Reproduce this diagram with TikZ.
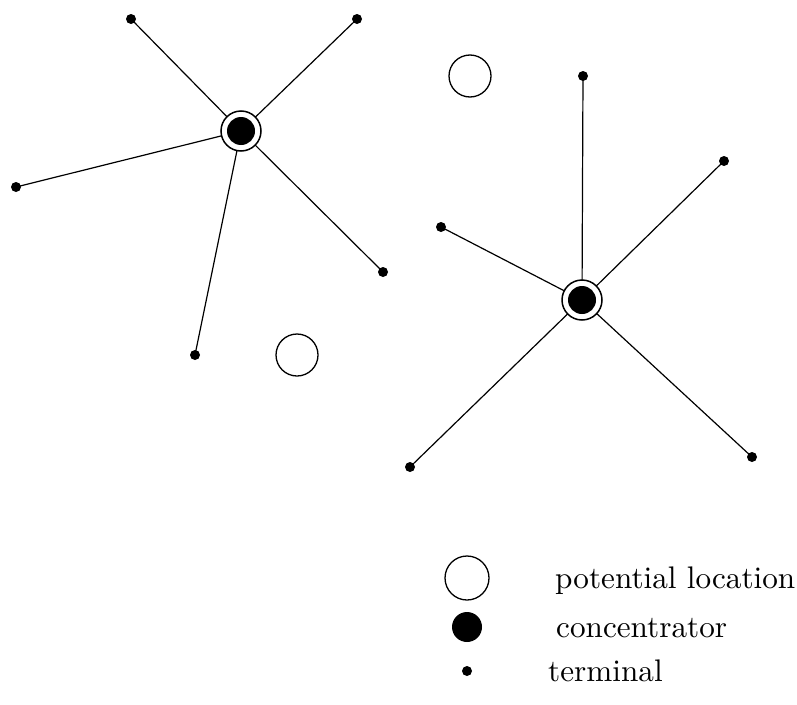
\documentclass[tikz,border=0pt]{standalone}
\begin{document}
\begin{tikzpicture}[x=1pt,y=-1pt,
  term/.style={circle,fill=black,inner sep=0pt,minimum size=10pt},
  ring/.style={circle,draw=black,fill=white,line width=1.5pt,inner sep=0pt,minimum size=40pt},
  conc/.style={circle,fill=black,inner sep=0pt,minimum size=28pt},
  potloc/.style={circle,draw=black,fill=white,line width=1.3pt,inner sep=0pt,minimum size=42pt},
  link/.style={line width=1.2pt},
  lbl/.style={anchor=base west,inner sep=0pt}]
\useasboundingbox (0,0) rectangle (797,704);
% concentrator 1
\coordinate (c1) at (241,131);
\node[term] (t1) at (131,19) {};
\node[term] (t2) at (357,19) {};
\node[term] (t3) at (16,187) {};
\node[term] (t4) at (383,272) {};
\node[term] (t5) at (195,355) {};
% concentrator 2
\coordinate (c2) at (582,300);
\node[term] (u1) at (583,76) {};
\node[term] (u2) at (724,161) {};
\node[term] (u3) at (441,227) {};
\node[term] (u4) at (410,467) {};
\node[term] (u5) at (752,457) {};
\foreach \t in {t1,t2,t3,t4,t5} \draw[link] (\t.center) -- (c1);
\foreach \t in {u1,u2,u3,u4,u5} \draw[link] (\t.center) -- (c2);
\node[ring] (r1) at (c1) {};
\node[conc] (k1) at (c1) {};
\node[ring] (r2) at (c2) {};
\node[conc] (k2) at (c2) {};
% potential locations
\node[potloc] (p1) at (470,76) {};
\node[potloc] (p2) at (297,355) {};
% legend
\node[potloc,minimum size=44pt] (lp) at (467,578) {};
\node[conc,minimum size=30pt] (lc) at (467,627) {};
\node[term] (lt) at (467,671) {};
\node[lbl] (tp) at (555,588) {\scalebox{3.12}{potential location}};
\node[lbl] (tc) at (556,637) {\scalebox{3.12}{concentrator}};
\node[lbl] (tt) at (548,681) {\scalebox{3.12}{terminal}};
\end{tikzpicture}
\end{document}
